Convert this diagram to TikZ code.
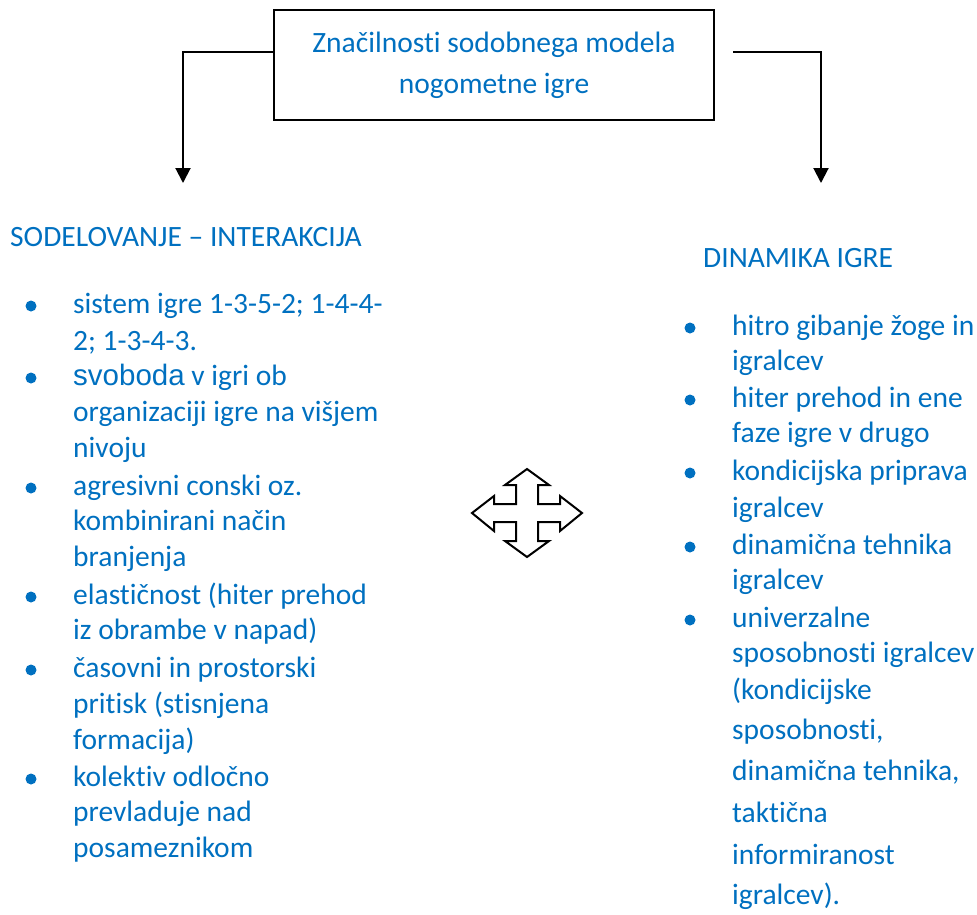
\documentclass[tikz,border=0pt]{standalone}
\usepackage{fontspec}
\setmainfont{Carlito}[Ligatures=NoCommon]
\newfontfamily\arialfont{Liberation Sans}
\usetikzlibrary{arrows.meta}
\definecolor{txtblue}{HTML}{0070C0}
\tikzset{
  txt/.style={text=txtblue, inner sep=0pt, anchor=base west,
              font=\fontsize{29.5}{36}\selectfont},
  conn/.style={line width=2pt, -{Triangle[width=15pt,length=15pt]}},
  bul/.style={fill=txtblue}
}
\begin{document}
\begin{tikzpicture}[x=1pt,y=-1pt]
  \useasboundingbox (0,0) rectangle (977,914);
  % title box
  \node[draw, line width=2pt, minimum width=440pt, minimum height=110pt,
        align=center, text=txtblue, font=\fontsize{29.5}{41}\selectfont]
        (title) at (494,65) {Značilnosti sodobnega modela\\nogometne igre};
  % connectors
  \coordinate (ltip) at (183,183);
  \coordinate (rtip) at (821,183);
  \draw[conn] ([yshift=13pt]title.west) -| (ltip);
  \draw[conn] ([xshift=18pt,yshift=13pt]title.east) -| (rtip);
  % headings
  \node[txt] (sodel) at (10,246) {SODELOVANJE – INTERAKCIJA};
  \node[txt] (dinam) at (703,267) {DINAMIKA IGRE};
  % left list
  \foreach \y in {306,378,488,597,670,779}
    \fill[bul] (31,\y) circle (5.5pt);
  \foreach \y/\t [count=\i] in {313/{sistem igre 1-3-5-2; 1-4-4-},
      350/{2; 1-3-4-3.},
      385/{{\arialfont svoboda} v igri ob},
      421/{organizaciji igre na višjem}, 457/{nivoju},
      495/{agresivni conski oz.}, 530/{kombinirani način},
      566/{branjenja}, 604/{elastičnost (hiter prehod},
      639/{iz obrambe v napad)}, 677/{časovni in prostorski},
      713/{pritisk (stisnjena}, 749/{formacija)},
      786/{kolektiv odločno}, 821/{prevladuje nad},
      857/{posameznikom}}
    \node[txt, name=sl\i] at (73,\y) {\t};
  % right list
  \foreach \y in {328,400,473,547,620}
    \fill[bul] (690,\y) circle (5.5pt);
  \foreach \y/\t [count=\i] in {335/{hitro gibanje žoge in},
      370/{igralcev}, 407/{hiter prehod in ene},
      442/{faze igre v drugo}, 480/{kondicijska priprava},
      517/{igralcev}, 554/{dinamična tehnika}, 589/{igralcev},
      627/{univerzalne}, 662/{sposobnosti igralcev},
      699/{(kondicijske}, 739/{sposobnosti,},
      780/{dinamična tehnika,}, 822/{taktična},
      864/{informiranost}, 904/{igralcev).}}
    \node[txt, name=dl\i] at (732,\y) {\t};
  % four-way arrow
  \draw[line width=2pt, line join=miter]
    (527,469) -- (549,485) -- (538,485) -- (538,504) -- (560,504)
    -- (560,496) -- (582,513) -- (560,531) -- (560,522) -- (538,522)
    -- (538,541) -- (549,541) -- (527,557) -- (505,541) -- (516,541)
    -- (516,522) -- (494,522) -- (494,531) -- (472,513) -- (494,496)
    -- (494,504) -- (516,504) -- (516,485) -- (505,485) -- cycle;
\end{tikzpicture}
\end{document}
